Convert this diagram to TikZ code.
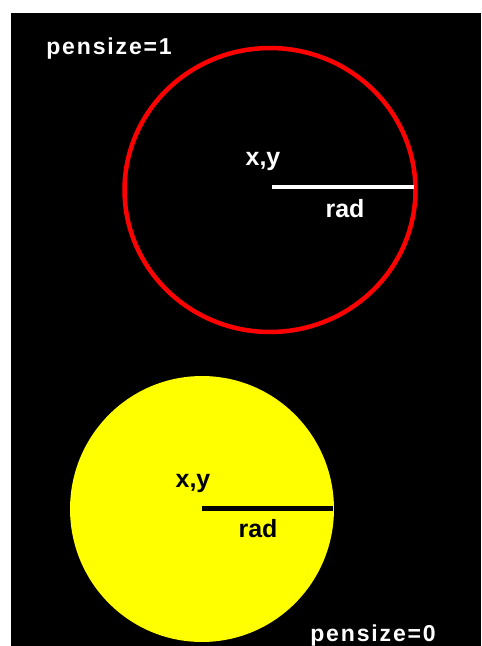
\documentclass[tikz,border=0pt]{standalone}
\usepackage{fontspec}
\setmainfont{Liberation Sans}
\newfontfamily\pixfont[LetterSpace=8]{Liberation Sans}
\definecolor{pureyellow}{RGB}{255,255,0}
\begin{document}
\begin{tikzpicture}[x=0.02cm, y=-0.02cm,
    sizetag/.style={inner sep=0, text=white, font=\pixfont\bfseries\fontsize{13.1pt}{13.1pt}\selectfont},
    ptlabel/.style={inner sep=0, anchor=base, font=\bfseries\fontsize{14.2pt}{14.2pt}\selectfont}]
    % Background
    \fill[white] (0,0) rectangle (481,646);
    \fill[black] (11,13) rectangle (481,646);
    \useasboundingbox (0,0) rectangle (481,646);

    % Outlined circle, pensize=1
    \draw[red, line width=0.09cm] (270,190) ellipse [x radius=2.91cm, y radius=2.84cm];
    \coordinate (c1) at (272,187);
    \coordinate (r1) at (414,187);
    \draw[white, line width=0.085cm] (c1) -- (r1);
    \node[ptlabel, text=white] (xy1) at (263,165) {x,y};
    \node[ptlabel, text=white] (rad1) at (345,217) {rad};
    \node[sizetag, anchor=base west] (pen1) at (46,54) {pensize=1};

    % Filled circle, pensize=0
    \fill[pureyellow] (202,509) ellipse [x radius=2.64cm, y radius=2.66cm];
    \coordinate (c2) at (202,508);
    \coordinate (r2) at (333,508);
    \draw[black, line width=0.1cm] (c2) -- (r2);
    \node[ptlabel, text=black] (xy2) at (193,487) {x,y};
    \node[ptlabel, text=black] (rad2) at (258,537) {rad};
    \node[sizetag, anchor=base west] (pen0) at (310,641) {pensize=0};
\end{tikzpicture}
\end{document}
